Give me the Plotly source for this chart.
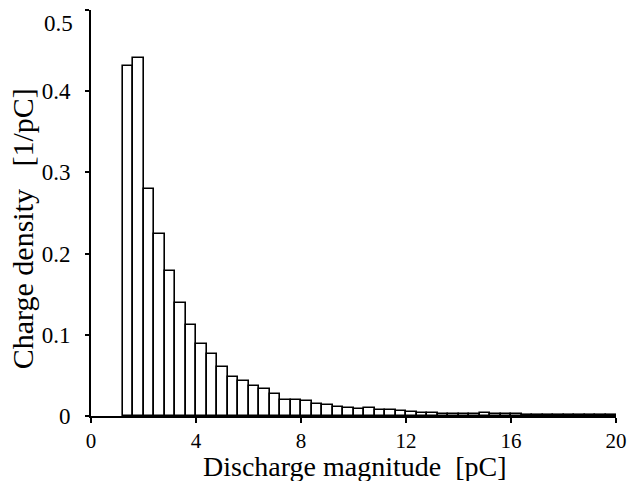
import plotly.graph_objects as go

# Histogram bins (left edges, pC) and charge density values (1/pC)
bin_starts = [1.2, 1.6, 2.0, 2.4, 2.8, 3.2, 3.6, 4.0, 4.4, 4.8, 5.2, 5.6, 6.0, 6.4, 6.8,
              7.2, 7.6, 8.0, 8.4, 8.8, 9.2, 9.6, 10.0, 10.4, 10.8, 11.2, 11.6, 12.0,
              12.4, 12.8, 13.2, 13.6, 14.0, 14.4, 14.8, 15.2, 15.6, 16.0, 16.4, 16.8,
              17.2, 17.6, 18.0, 18.4, 18.8, 19.2, 19.6]
density = [0.431, 0.441, 0.279, 0.224, 0.178, 0.139, 0.112, 0.089, 0.076, 0.060,
           0.048, 0.043, 0.037, 0.033, 0.0265, 0.020, 0.020, 0.018, 0.015, 0.014,
           0.011, 0.0096, 0.0089, 0.0096, 0.008, 0.0068, 0.006, 0.0045, 0.004,
           0.0035, 0.003, 0.003, 0.003, 0.0028, 0.0035, 0.0025, 0.002, 0.002,
           0.0018, 0.0018, 0.0015, 0.0008, 0.0008, 0.0015, 0.0018, 0.0018, 0.0015]
bin_width = 0.4

x_ticks = [0, 4, 8, 12, 16, 20]
y_ticks = [0, 0.1, 0.2, 0.3, 0.4, 0.5]
y_tick_text = ["0", "0.1", "0.2", "0.3", "0.4", ""]
x_title = "Discharge magnitude  [pC]"
y_title = "Charge density   [1/pC]"

FONT = "Liberation Serif, Times New Roman, serif"

fig = go.Figure()
fig.add_trace(go.Bar(
    x=bin_starts, y=density, width=bin_width, offset=0,
    marker=dict(color="white", line=dict(color="black", width=1.6)),
    showlegend=False,
))

fig.update_layout(
    width=637, height=481,
    margin=dict(l=91, r=11, t=10, b=65),
    paper_bgcolor="white", plot_bgcolor="white",
    font=dict(family=FONT, size=21, color="black"),
    bargap=0,
    xaxis=dict(range=[0, 20], tickvals=x_ticks, ticktext=[str(v) for v in x_ticks],
               showline=True, linecolor="black", linewidth=2, showgrid=False,
               zeroline=False, ticks="outside", ticklen=5, tickwidth=2,
               tickcolor="black", ticklabelstandoff=0,
               tickfont=dict(family=FONT, size=21, color="black")),
    yaxis=dict(range=[0, 0.5], tickvals=y_ticks, ticktext=y_tick_text,
               showline=True, linecolor="black", linewidth=2, showgrid=False,
               zeroline=False, ticks="outside", ticklen=4, tickwidth=2,
               tickcolor="black", ticklabelstandoff=10,
               tickfont=dict(family=FONT, size=23, color="black")),
    annotations=[
        dict(text="0.5", xref="paper", yref="paper", x=0, y=1, xanchor="right",
             yanchor="middle", xshift=-16, yshift=-13, showarrow=False,
             font=dict(family=FONT, size=23, color="black")),
        dict(text=x_title, xref="paper", yref="paper", x=0.503, y=0,
             xanchor="center", yanchor="middle", yshift=-50, showarrow=False,
             font=dict(family=FONT, size=28, color="black")),
        dict(text=y_title, xref="paper", yref="paper", x=0, y=0.46,
             xanchor="center", yanchor="middle", xshift=-69, textangle=-90,
             showarrow=False, font=dict(family=FONT, size=30, color="black")),
    ],
)

fig.write_html("out.html")
